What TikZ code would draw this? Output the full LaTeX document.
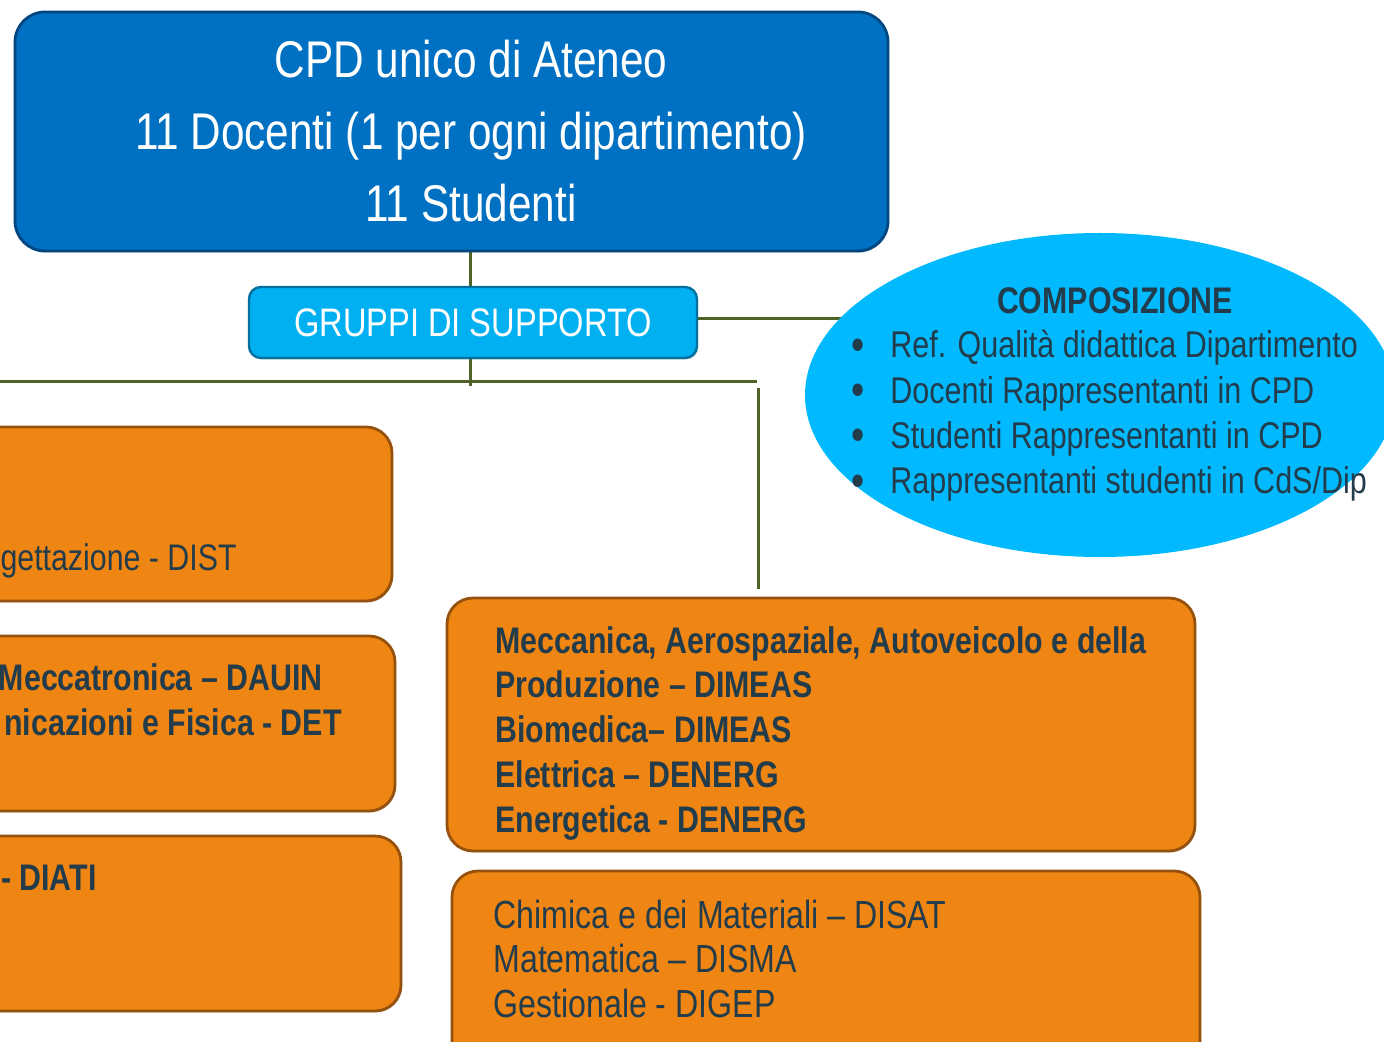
\documentclass[tikz,border=0pt]{standalone}
\usepackage{fontspec}
\setmainfont{Liberation Sans}[FakeStretch=0.82]
\usetikzlibrary{shapes.geometric,shadows,backgrounds}
\definecolor{cpdblue}{RGB}{0,113,194}
\definecolor{cpdedge}{RGB}{0,70,128}
\definecolor{grpblue}{RGB}{0,176,240}
\definecolor{grpedge}{RGB}{0,112,160}
\definecolor{compblue}{RGB}{0,185,255}
\definecolor{dipfill}{RGB}{239,133,18}
\definecolor{dipedge}{RGB}{150,82,12}
\definecolor{dark}{RGB}{35,60,75}
\definecolor{linkgreen}{RGB}{79,98,40}
\begin{document}
\begin{tikzpicture}[x=0.5pt,y=-0.5pt,line join=round,
  shaded/.style={drop shadow={shadow xshift=0.6pt,shadow yshift=-0.8pt,opacity=0.3}},
  dipbox/.style={rectangle,rounded corners=13pt,fill=dipfill,draw=dipedge,line width=1.4pt,inner sep=0pt,shaded},
  diptxt/.style={inner sep=0pt,text=dark,font=\fontsize{18.5}{22}\selectfont},
  dipbold/.style={diptxt,font=\fontsize{18.5}{22}\selectfont\bfseries},
  elltxt/.style={inner sep=0pt,text=dark,font=\fontsize{18.6}{22}\selectfont},
  link/.style={draw=linkgreen,line width=1.5pt}]
	\useasboundingbox (0,0) rectangle (1384,1042);
	\node[rectangle,rounded corners=15pt,fill=cpdblue,draw=cpdedge,line width=1.4pt,shaded,
	  minimum width=436.5pt,minimum height=119.5pt] (cpd) at (451.5,131.5) {};
	\node[inner sep=0pt,text=white,align=center,font=\fontsize{25.8}{36}\selectfont] (cpdtxt) at (471,131)
	  {CPD unico di Ateneo\\11 Docenti (1 per ogni dipartimento)\\11 Studenti};
	\node[rectangle,rounded corners=6pt,fill=grpblue,draw=grpedge,line width=1.2pt,shaded,
	  minimum width=224pt,minimum height=35.5pt,text=white,font=\fontsize{19.9}{22}\selectfont] (grp) at (473,322.5) {GRUPPI DI SUPPORTO};
	\node[ellipse,fill=compblue,minimum width=295pt,minimum height=162pt] (comp) at (1100,395) {};
	\node[elltxt,font=\fontsize{18.5}{22}\selectfont\bfseries] (comptit) at (1115,301) {COMPOSIZIONE};
	\foreach \t [count=\i from 0] in {{Ref. Qualità didattica Dipartimento},{Docenti Rappresentanti in CPD},{Studenti Rappresentanti in CPD},{Rappresentanti studenti in CdS/Dip}}{
		\node[elltxt,font=\fontsize{23}{22}\selectfont,text height=6pt,text depth=0pt,anchor=base] (dot\i) at (858,{361+45*\i}) {•};
		\node[elltxt,anchor=base west] (ref\i) at (890,{358+45*\i}) {\t};
	}
	\node[dipbox,minimum width=226pt,minimum height=87pt] (dist) at (166,514) {};
	\node[dipbox,minimum width=227.5pt,minimum height=87.5pt] (dauin) at (167.5,723.5) {};
	\node[dipbox,minimum width=230.5pt,minimum height=87.5pt] (diati) at (170.5,923.5) {};
	\node[dipbox,minimum width=374pt,minimum height=126.5pt] (dimeas) at (821,724.5) {};
	\node[dipbox,minimum width=374pt,minimum height=100pt] (disat) at (826,971) {};
	\node[diptxt,anchor=base east] (tdist) at (237,570) {gettazione - DIST};
	\node[dipbold,anchor=base east] (tdauin) at (323,690) {Meccatronica – DAUIN};
	\node[dipbold,anchor=base east] (tdet) at (342,735) {nicazioni e Fisica - DET};
	\node[dipbold,anchor=base east] (tdiati) at (97,890) {- DIATI};
	\foreach \t [count=\i from 0] in {{Meccanica, Aerospaziale, Autoveicolo e della},{Produzione – DIMEAS},{Biomedica– DIMEAS},{Elettrica – DENERG},{Energetica - DENERG}}
		\node[dipbold,anchor=base west] (mec\i) at (495,{653+44.75*\i}) {\t};
	\foreach \t [count=\i from 0] in {{Chimica e dei Materiali – DISAT},{Matematica – DISMA},{Gestionale - DIGEP}}
		\node[diptxt,font=\fontsize{19.6}{22}\selectfont,anchor=base west] (chi\i) at (493,{928+44.75*\i}) {\t};
	\coordinate (trunk) at (470,0);
	\coordinate (hleft) at (0,382);
	\coordinate (hright) at (757,382);
	\coordinate (drop) at (758,388);
	\begin{scope}[on background layer]
		\draw[link] (cpd.south -| trunk) -- (grp.north -| trunk);
		\draw[link] ([yshift=2pt]grp.east) -- ([yshift=2pt]grp.east -| comp);
		\draw[link] (grp.south -| trunk) -- ++(0,27);
		\draw[link] (hleft) -- (hright);
		\draw[link,shorten >=4pt] (drop) -- (drop |- dimeas.north);
	\end{scope}
\end{tikzpicture}
\end{document}
